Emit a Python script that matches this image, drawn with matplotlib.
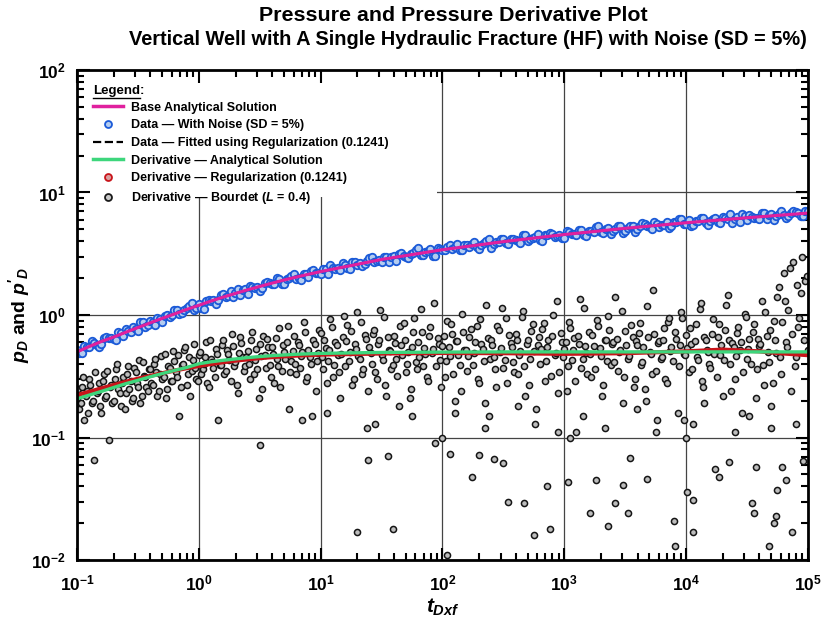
import numpy as np
import matplotlib
matplotlib.use('Agg')
import matplotlib.pyplot as plt
from matplotlib.lines import Line2D
from matplotlib.patches import Rectangle
from matplotlib.ticker import LogLocator, NullFormatter

plt.rcParams['font.family'] = ['Liberation Sans', 'DejaVu Sans']
plt.rcParams['mathtext.fontset'] = 'custom'
plt.rcParams['mathtext.rm'] = 'Liberation Sans:bold'
plt.rcParams['mathtext.it'] = 'Liberation Sans:bold:italic'
plt.rcParams['mathtext.bf'] = 'Liberation Sans:bold'

# ---------------- data (log10 of t_Dxf and values) ----------------
curve_logt = [-1.0, -0.9, -0.8, -0.7, -0.6, -0.5, -0.4, -0.3, -0.2, -0.1, 0.0,
              0.1, 0.2, 0.3, 0.4, 0.5, 0.6, 0.7, 0.8, 0.9, 1.0,
              1.5, 2.0, 2.5, 3.0, 3.5, 4.0, 4.5, 5.0]
base_pd = [0.50, 0.553, 0.608, 0.66, 0.723, 0.79, 0.862, 0.94, 1.02, 1.11, 1.20,
           1.30, 1.40, 1.50, 1.605, 1.71, 1.82, 1.93, 2.04, 2.15, 2.26,
           2.84, 3.41, 3.97, 4.535, 5.10, 5.66, 6.22, 6.785]
fitted_pd = [0.50, 0.553, 0.608, 0.66, 0.723, 0.79, 0.862, 0.94, 1.02, 1.11, 1.20,
             1.30, 1.40, 1.50, 1.605, 1.71, 1.82, 1.93, 2.04, 2.15, 2.26,
             2.84, 3.41, 3.97, 4.535, 5.10, 5.66, 6.22, 6.785]
deriv_analytical = [0.207, 0.222, 0.238, 0.256, 0.275, 0.293, 0.313, 0.333, 0.353, 0.373, 0.40,
                    0.415, 0.427, 0.438, 0.449, 0.458, 0.466, 0.472, 0.478, 0.482, 0.486,
                    0.495, 0.498, 0.50, 0.50, 0.50, 0.50, 0.50, 0.50]
reg_logt = [-1.0, -0.9, -0.8, -0.7, -0.6, -0.5, -0.4, -0.3, -0.2, -0.1, 0.0,
            0.1, 0.2, 0.3, 0.4, 0.5, 0.6, 0.7, 0.8, 0.9, 1.0,
            1.5, 2.0, 2.5, 3.0, 3.5, 4.0, 4.3, 4.6, 4.8, 5.0]
deriv_regularization = [0.222, 0.236, 0.252, 0.268, 0.285, 0.302, 0.318, 0.335, 0.352, 0.368, 0.384,
                        0.398, 0.412, 0.424, 0.435, 0.445, 0.453, 0.46, 0.466, 0.471, 0.475,
                        0.485, 0.49, 0.488, 0.482, 0.488, 0.505, 0.522, 0.505, 0.485, 0.47]

noise_logt = [-1.00, -0.98, -0.96, -0.94, -0.92, -0.90, -0.88, -0.86, -0.84, -0.82,
              -0.80, -0.78, -0.76, -0.74, -0.72, -0.70, -0.68, -0.66, -0.64, -0.62,
              -0.60, -0.58, -0.56, -0.54, -0.52, -0.50, -0.48, -0.46, -0.44, -0.42,
              -0.40, -0.38, -0.36, -0.34, -0.32, -0.30, -0.28, -0.26, -0.24, -0.22,
              -0.20, -0.18, -0.16, -0.14, -0.12, -0.10, -0.08, -0.06, -0.04, -0.02,
              0.00, 0.02, 0.04, 0.06, 0.08, 0.10, 0.12, 0.14, 0.16, 0.18,
              0.20, 0.22, 0.24, 0.26, 0.28, 0.30, 0.32, 0.34, 0.36, 0.38,
              0.40, 0.42, 0.44, 0.46, 0.48, 0.50, 0.52, 0.54, 0.56, 0.58,
              0.60, 0.62, 0.64, 0.66, 0.68, 0.70, 0.72, 0.74, 0.76, 0.78,
              0.80, 0.82, 0.84, 0.86, 0.88, 0.90, 0.92, 0.94, 0.96, 0.98,
              1.00, 1.02, 1.04, 1.06, 1.08, 1.10, 1.12, 1.14, 1.16, 1.18,
              1.20, 1.22, 1.24, 1.26, 1.28, 1.30, 1.32, 1.34, 1.36, 1.38,
              1.40, 1.42, 1.44, 1.46, 1.48, 1.50, 1.52, 1.54, 1.56, 1.58,
              1.60, 1.62, 1.64, 1.66, 1.68, 1.70, 1.72, 1.74, 1.76, 1.78,
              1.80, 1.82, 1.84, 1.86, 1.88, 1.90, 1.92, 1.94, 1.96, 1.98,
              2.00, 2.02, 2.04, 2.06, 2.08, 2.10, 2.12, 2.14, 2.16, 2.18,
              2.20, 2.22, 2.24, 2.26, 2.28, 2.30, 2.32, 2.34, 2.36, 2.38,
              2.40, 2.42, 2.44, 2.46, 2.48, 2.50, 2.52, 2.54, 2.56, 2.58,
              2.60, 2.62, 2.64, 2.66, 2.68, 2.70, 2.72, 2.74, 2.76, 2.78,
              2.80, 2.82, 2.84, 2.86, 2.88, 2.90, 2.92, 2.94, 2.96, 2.98,
              3.00, 3.02, 3.04, 3.06, 3.08, 3.10, 3.12, 3.14, 3.16, 3.18,
              3.20, 3.22, 3.24, 3.26, 3.28, 3.30, 3.32, 3.34, 3.36, 3.38,
              3.40, 3.42, 3.44, 3.46, 3.48, 3.50, 3.52, 3.54, 3.56, 3.58,
              3.60, 3.62, 3.64, 3.66, 3.68, 3.70, 3.72, 3.74, 3.76, 3.78,
              3.80, 3.82, 3.84, 3.86, 3.88, 3.90, 3.92, 3.94, 3.96, 3.98,
              4.00, 4.02, 4.04, 4.06, 4.08, 4.10, 4.12, 4.14, 4.16, 4.18,
              4.20, 4.22, 4.24, 4.26, 4.28, 4.30, 4.32, 4.34, 4.36, 4.38,
              4.40, 4.42, 4.44, 4.46, 4.48, 4.50, 4.52, 4.54, 4.56, 4.58,
              4.60, 4.62, 4.64, 4.66, 4.68, 4.70, 4.72, 4.74, 4.76, 4.78,
              4.80, 4.82, 4.84, 4.86, 4.88, 4.90, 4.92, 4.94, 4.96, 4.98, 5.00]
noise_pd = [0.515, 0.490, 0.490, 0.563, 0.547, 0.547, 0.609, 0.592, 0.574, 0.549,
            0.584, 0.649, 0.660, 0.653, 0.650, 0.641, 0.626, 0.733, 0.712, 0.675,
            0.766, 0.743, 0.728, 0.794, 0.769, 0.743, 0.876, 0.883, 0.791, 0.830,
            0.896, 0.877, 0.822, 0.953, 0.933, 0.874, 0.985, 1.001, 0.968, 0.994,
            1.091, 1.100, 1.014, 1.031, 1.092, 1.132, 1.184, 1.249, 1.094, 1.147,
            1.224, 1.147, 1.128, 1.310, 1.331, 1.313, 1.333, 1.233, 1.319, 1.449,
            1.484, 1.392, 1.426, 1.562, 1.406, 1.500, 1.643, 1.465, 1.594, 1.632,
            1.493, 1.724, 1.696, 1.651, 1.689, 1.556, 1.663, 1.824, 1.865, 1.834,
            1.784, 1.787, 1.994, 1.980, 1.794, 1.795, 1.972, 1.994, 2.076, 2.179,
            1.979, 2.021, 1.917, 2.169, 2.171, 2.043, 2.302, 2.326, 2.216, 2.216,
            2.147, 2.374, 2.375, 2.143, 2.564, 2.423, 2.374, 2.421, 2.346, 2.640,
            2.540, 2.412, 2.384, 2.687, 2.711, 2.553, 2.654, 2.492, 2.621, 2.778,
            2.938, 2.990, 2.683, 2.761, 2.812, 2.693, 2.972, 2.996, 2.701, 2.956,
            3.039, 2.765, 3.176, 3.200, 3.012, 2.973, 2.934, 3.173, 3.197, 3.410,
            3.498, 3.075, 3.097, 3.249, 3.305, 3.460, 3.053, 3.040, 3.532, 3.489,
            3.410, 3.363, 3.559, 3.720, 3.430, 3.557, 3.793, 3.389, 3.375, 3.756,
            3.708, 3.620, 3.827, 3.924, 3.613, 3.485, 3.732, 3.868, 4.044, 4.144,
            3.513, 3.766, 3.944, 3.927, 4.148, 4.171, 3.835, 3.776, 4.161, 4.184,
            4.085, 4.025, 3.882, 4.526, 4.509, 4.029, 4.136, 4.284, 4.350, 4.544,
            4.095, 3.985, 4.529, 4.465, 4.708, 4.599, 4.312, 4.422, 4.535, 4.286,
            4.218, 4.876, 4.717, 4.602, 4.625, 4.508, 4.950, 4.927, 4.526, 4.453,
            4.855, 4.878, 4.757, 5.213, 5.287, 4.775, 4.650, 5.065, 5.088, 4.615,
            4.885, 5.057, 5.282, 5.355, 4.669, 4.893, 5.171, 5.348, 5.372, 4.720,
            5.054, 5.337, 5.623, 5.541, 5.300, 5.269, 5.024, 5.743, 5.498, 5.250,
            5.381, 5.457, 5.754, 5.172, 5.304, 5.713, 5.737, 6.039, 6.064, 5.524,
            5.547, 5.909, 5.306, 5.441, 5.808, 5.830, 6.143, 6.166, 5.665, 5.393,
            5.885, 6.025, 6.167, 5.773, 5.676, 6.297, 6.140, 6.042, 6.611, 5.661,
            6.049, 6.316, 5.786, 6.733, 6.386, 5.973, 6.557, 6.330, 6.164, 6.186,
            6.082, 6.738, 6.827, 6.082, 6.489, 6.705, 5.952, 6.427, 6.710, 6.995,
            6.560, 6.187, 6.407, 6.760, 7.049, 6.872, 6.829, 6.448, 6.403, 7.100, 7.056]

bourdet_logt = [-1.00, -0.99, -0.98, -0.97, -0.96, -0.95, -0.94, -0.93, -0.92, -0.91,
                -0.90, -0.89, -0.88, -0.87, -0.86, -0.85, -0.84, -0.83, -0.82, -0.81,
                -0.80, -0.79, -0.78, -0.77, -0.76, -0.75, -0.74, -0.73, -0.72, -0.71,
                -0.70, -0.69, -0.68, -0.67, -0.66, -0.65, -0.64, -0.63, -0.62, -0.61,
                -0.60, -0.59, -0.58, -0.57, -0.56, -0.55, -0.54, -0.53, -0.52, -0.51,
                -0.50, -0.49, -0.48, -0.47, -0.46, -0.45, -0.44, -0.43, -0.42, -0.41,
                -0.40, -0.39, -0.38, -0.37, -0.36, -0.35, -0.34, -0.33, -0.32, -0.31,
                -0.30, -0.29, -0.28, -0.27, -0.26, -0.25, -0.24, -0.23, -0.22, -0.21,
                -0.20, -0.19, -0.18, -0.17, -0.16, -0.15, -0.14, -0.13, -0.12, -0.11,
                -0.10, -0.09, -0.08, -0.07, -0.06, -0.05, -0.04, -0.03, -0.02, -0.01,
                0.00, 0.01, 0.02, 0.03, 0.04, 0.05, 0.06, 0.07, 0.08, 0.09,
                0.10, 0.11, 0.12, 0.13, 0.14, 0.15, 0.16, 0.17, 0.18, 0.19,
                0.20, 0.21, 0.22, 0.23, 0.24, 0.25, 0.26, 0.27, 0.28, 0.29,
                0.30, 0.31, 0.32, 0.33, 0.34, 0.35, 0.36, 0.37, 0.38, 0.39,
                0.40, 0.41, 0.42, 0.43, 0.44, 0.45, 0.46, 0.47, 0.48, 0.49,
                0.50, 0.51, 0.52, 0.53, 0.54, 0.55, 0.56, 0.57, 0.58, 0.59,
                0.60, 0.61, 0.62, 0.63, 0.64, 0.65, 0.66, 0.67, 0.68, 0.69,
                0.70, 0.71, 0.72, 0.73, 0.74, 0.75, 0.76, 0.77, 0.78, 0.79,
                0.80, 0.81, 0.82, 0.83, 0.84, 0.85, 0.86, 0.87, 0.88, 0.89,
                0.90, 0.91, 0.92, 0.93, 0.94, 0.95, 0.96, 0.97, 0.98, 0.99,
                1.00, 1.01, 1.02, 1.03, 1.04, 1.05, 1.06, 1.07, 1.08, 1.09,
                1.10, 1.11, 1.12, 1.13, 1.14, 1.15, 1.16, 1.17, 1.18, 1.19,
                1.20, 1.21, 1.22, 1.23, 1.24, 1.25, 1.26, 1.27, 1.28, 1.29,
                1.30, 1.31, 1.32, 1.33, 1.34, 1.35, 1.36, 1.37, 1.38, 1.39,
                1.40, 1.41, 1.42, 1.43, 1.44, 1.45, 1.46, 1.47, 1.48, 1.49,
                1.50, 1.51, 1.52, 1.53, 1.54, 1.55, 1.56, 1.57, 1.58, 1.59,
                1.60, 1.61, 1.62, 1.63, 1.64, 1.65, 1.66, 1.67, 1.68, 1.69,
                1.70, 1.71, 1.72, 1.73, 1.74, 1.75, 1.76, 1.77, 1.78, 1.79,
                1.80, 1.81, 1.82, 1.83, 1.84, 1.85, 1.86, 1.87, 1.88, 1.89,
                1.90, 1.91, 1.92, 1.93, 1.94, 1.95, 1.96, 1.97, 1.98, 1.99,
                2.00, 2.01, 2.02, 2.03, 2.04, 2.05, 2.06, 2.07, 2.08, 2.09,
                2.10, 2.11, 2.12, 2.13, 2.14, 2.15, 2.16, 2.17, 2.18, 2.19,
                2.20, 2.21, 2.22, 2.23, 2.24, 2.25, 2.26, 2.27, 2.28, 2.29,
                2.30, 2.31, 2.32, 2.33, 2.34, 2.35, 2.36, 2.37, 2.38, 2.39,
                2.40, 2.41, 2.42, 2.43, 2.44, 2.45, 2.46, 2.47, 2.48, 2.49,
                2.50, 2.51, 2.52, 2.53, 2.54, 2.55, 2.56, 2.57, 2.58, 2.59,
                2.60, 2.61, 2.62, 2.63, 2.64, 2.65, 2.66, 2.67, 2.68, 2.69,
                2.70, 2.71, 2.72, 2.73, 2.74, 2.75, 2.76, 2.77, 2.78, 2.79,
                2.80, 2.81, 2.82, 2.83, 2.84, 2.85, 2.86, 2.87, 2.88, 2.89,
                2.90, 2.91, 2.92, 2.93, 2.94, 2.95, 2.96, 2.97, 2.98, 2.99,
                3.00, 3.01, 3.02, 3.03, 3.04, 3.05, 3.06, 3.07, 3.08, 3.09,
                3.10, 3.11, 3.12, 3.13, 3.14, 3.15, 3.16, 3.17, 3.18, 3.19,
                3.20, 3.21, 3.22, 3.23, 3.24, 3.25, 3.26, 3.27, 3.28, 3.29,
                3.30, 3.31, 3.32, 3.33, 3.34, 3.35, 3.36, 3.37, 3.38, 3.39,
                3.40, 3.41, 3.42, 3.43, 3.44, 3.45, 3.46, 3.47, 3.48, 3.49,
                3.50, 3.51, 3.52, 3.53, 3.54, 3.55, 3.56, 3.57, 3.58, 3.59,
                3.60, 3.61, 3.62, 3.63, 3.64, 3.65, 3.66, 3.67, 3.68, 3.69,
                3.70, 3.71, 3.72, 3.73, 3.74, 3.75, 3.76, 3.77, 3.78, 3.79,
                3.80, 3.81, 3.82, 3.83, 3.84, 3.85, 3.86, 3.87, 3.88, 3.89,
                3.90, 3.91, 3.92, 3.93, 3.94, 3.95, 3.96, 3.97, 3.98, 3.99,
                4.00, 4.01, 4.02, 4.03, 4.04, 4.05, 4.06, 4.07, 4.08, 4.09,
                4.10, 4.11, 4.12, 4.13, 4.14, 4.15, 4.16, 4.17, 4.18, 4.19,
                4.20, 4.21, 4.22, 4.23, 4.24, 4.25, 4.26, 4.27, 4.28, 4.29,
                4.30, 4.31, 4.32, 4.33, 4.34, 4.35, 4.36, 4.37, 4.38, 4.39,
                4.40, 4.41, 4.42, 4.43, 4.44, 4.45, 4.46, 4.47, 4.48, 4.49,
                4.50, 4.51, 4.52, 4.53, 4.54, 4.55, 4.56, 4.57, 4.58, 4.59,
                4.60, 4.61, 4.62, 4.63, 4.64, 4.65, 4.66, 4.67, 4.68, 4.69,
                4.70, 4.71, 4.72, 4.73, 4.74, 4.75, 4.76, 4.77, 4.78, 4.79,
                4.80, 4.81, 4.82, 4.83, 4.84, 4.85, 4.86, 4.87, 4.88, 4.89,
                4.90, 4.91, 4.92, 4.93, 4.94, 4.95, 4.96, 4.97, 4.98, 4.99, 5.00,
                1.30, 1.59, 1.39, 1.55, 2.67, 2.75, 2.86, 3.03, 3.21, 3.36,
                3.42, 3.52, 3.48, 3.68, 3.91, 4.01, 4.06, 4.06, 4.27, 4.35,
                4.56, 4.68, 4.72, 4.74, 4.79, 4.82, 4.87, 4.75, 4.57, 2.06,
                2.30, 2.42, 2.50, 0.50, 2.04, 2.10, 2.35, 2.62, 2.95, 3.15,
                3.33, 3.60, 3.75, 3.98, 4.15, 4.40, 4.52, 4.70, 4.90, 1.75,
                1.45, 1.05, 0.85, 2.00, 3.05, 4.00]
bourdet_pd = [0.21, 0.25, 0.17, 0.19, 0.26, 0.31, 0.14, 0.22, 0.24, 0.16,
              0.30, 0.27, 0.19, 0.20, 0.065, 0.34, 0.23, 0.24, 0.28, 0.18,
              0.16, 0.29, 0.33, 0.21, 0.22, 0.35, 0.095, 0.26, 0.27, 0.19,
              0.20, 0.30, 0.36, 0.40, 0.25, 0.23, 0.18, 0.28, 0.31, 0.17,
              0.23, 0.33, 0.38, 0.25, 0.29, 0.20, 0.21, 0.37, 0.34, 0.28,
              0.26, 0.43, 0.19, 0.22, 0.41, 0.32, 0.31, 0.26, 0.24, 0.36,
              0.36, 0.28, 0.27, 0.40, 0.44, 0.34, 0.22, 0.24, 0.33, 0.46,
              0.30, 0.31, 0.48, 0.21, 0.25, 0.38, 0.37, 0.29, 0.29, 0.51,
              0.42, 0.34, 0.31, 0.47, 0.15, 0.26, 0.39, 0.40, 0.52, 0.55,
              0.27, 0.33, 0.45, 0.22, 0.35, 0.43, 0.58, 0.37, 0.30, 0.29,
              0.47, 0.50, 0.33, 0.36, 0.40, 0.45, 0.60, 0.28, 0.26, 0.63,
              0.44, 0.41, 0.37, 0.31, 0.53, 0.48, 0.14, 0.39, 0.39, 0.57,
              0.62, 0.33, 0.35, 0.52, 0.48, 0.43, 0.29, 0.70, 0.56, 0.38,
              0.41, 0.27, 0.23, 0.49, 0.66, 0.59, 0.45, 0.35, 0.38, 0.45,
              0.51, 0.40, 0.30, 0.62, 0.72, 0.33, 0.43, 0.53, 0.36, 0.21,
              0.58, 0.46, 0.25, 0.68, 0.47, 0.37, 0.64, 0.55, 0.39, 0.31,
              0.55, 0.48, 0.28, 0.65, 0.44, 0.38, 0.78, 0.26, 0.35, 0.57,
              0.50, 0.44, 0.60, 0.82, 0.17, 0.34, 0.42, 0.51, 0.68, 0.40,
              0.33, 0.60, 0.57, 0.37, 0.46, 0.50, 0.88, 0.72, 0.29, 0.31,
              0.52, 0.45, 0.40, 0.15, 0.63, 0.58, 0.24, 0.42, 0.49, 0.76,
              0.71, 0.45, 0.36, 0.63, 0.54, 0.28, 0.42, 0.52, 0.92, 0.80,
              0.31, 0.39, 0.60, 0.57, 0.47, 0.34, 0.21, 0.48, 0.66, 0.98,
              0.38, 0.61, 0.83, 0.42, 0.50, 0.74, 0.27, 0.30, 0.58, 0.53,
              1.05, 0.46, 0.44, 0.88, 0.33, 0.36, 0.69, 0.64, 0.12, 0.24,
              0.55, 0.49, 0.40, 0.70, 0.75, 0.34, 0.30, 0.58, 0.62, 1.10,
              0.47, 0.43, 0.96, 0.27, 0.22, 0.66, 0.52, 0.51, 0.36, 0.39,
              0.68, 0.59, 0.44, 0.32, 0.18, 0.81, 0.57, 0.47, 0.86, 0.63,
              0.34, 0.40, 0.50, 0.21, 0.25, 0.55, 0.73, 0.95, 0.41, 0.36,
              0.60, 0.45, 1.12, 0.72, 0.38, 0.54, 0.48, 0.31, 0.29, 0.67,
              0.80, 0.49, 0.53, 1.25, 0.09, 0.38, 0.65, 0.58, 0.43, 0.26,
              0.56, 0.68, 0.31, 0.42, 0.90, 0.55, 0.46, 0.84, 0.70, 0.33,
              0.20, 0.61, 0.61, 0.47, 0.39, 0.24, 1.02, 0.73, 0.52, 0.52,
              0.35, 0.46, 0.66, 0.77, 0.048, 0.39, 0.49, 0.60, 0.82, 0.30,
              0.28, 0.92, 0.58, 0.53, 0.42, 0.19, 1.20, 0.65, 0.15, 0.44,
              0.63, 0.57, 0.45, 0.36, 0.26, 0.81, 0.75, 0.50, 0.54, 1.15,
              0.37, 0.43, 0.94, 0.28, 0.030, 0.69, 0.59, 0.55, 0.41, 0.34,
              0.70, 0.62, 0.33, 0.47, 0.51, 0.96, 1.08, 0.38, 0.22, 0.58,
              0.62, 0.27, 0.44, 0.74, 0.85, 0.51, 0.13, 0.17, 0.57, 0.66,
              0.40, 0.53, 0.77, 0.86, 0.29, 0.42, 0.55, 0.63, 0.018, 0.32,
              0.67, 1.00, 0.47, 0.49, 1.30, 0.23, 0.34, 0.71, 0.60, 0.45,
              0.53, 0.60, 0.24, 0.38, 0.88, 0.79, 0.43, 0.52, 0.65, 0.29,
              0.11, 0.67, 0.58, 1.35, 0.37, 0.44, 1.15, 0.56, 0.49, 0.33,
              0.72, 0.48, 0.31, 0.69, 0.56, 0.36, 0.045, 0.91, 0.82, 0.54,
              0.46, 0.22, 0.27, 0.63, 0.63, 0.42, 0.99, 0.76, 0.39, 0.58,
              0.60, 0.41, 1.40, 0.64, 0.35, 0.50, 0.52, 1.08, 0.19, 0.31,
              0.74, 0.57, 0.44, 0.46, 0.068, 0.83, 0.66, 0.26, 0.30, 0.61,
              0.57, 0.71, 0.86, 0.39, 0.41, 0.55, 0.25, 0.20, 1.18, 0.66,
              0.50, 0.48, 0.33, 1.60, 0.70, 0.35, 0.14, 0.59, 0.61, 0.44,
              0.45, 0.62, 0.78, 0.30, 0.28, 0.88, 0.95, 0.51, 0.55, 0.42,
              0.021, 0.73, 0.64, 0.16, 0.38, 0.57, 1.06, 0.94, 0.48, 0.47,
              0.69, 0.54, 0.34, 0.78, 0.58, 0.36, 0.13, 0.61, 0.84, 0.45,
              0.43, 1.12, 1.25, 0.29, 0.26, 0.66, 0.62, 0.52, 0.50, 0.40,
              0.37, 0.70, 0.92, 0.48, 0.055, 0.31, 0.66, 0.85, 0.47, 0.57,
              0.22, 0.43, 0.76, 1.20, 1.45, 0.63, 0.40, 0.24, 0.59, 0.55,
              0.30, 0.46, 0.71, 0.80, 0.52, 0.60, 0.16, 0.34, 1.02, 0.97,
              0.44, 0.53, 0.64, 0.40, 0.029, 0.72, 0.85, 0.21, 0.36, 0.64,
              0.56, 0.58, 1.30, 0.39, 0.27, 1.05, 0.68, 0.50, 0.41, 0.76,
              0.12, 0.28, 0.90, 0.62, 0.49, 1.40, 1.70, 0.45, 0.33, 0.88,
              2.20, 1.30, 0.60, 0.55, 1.10, 2.40, 0.24, 0.70, 2.70, 0.38,
              0.45, 1.75, 0.80, 0.95, 1.50, 3.00, 0.064, 0.62, 1.90, 2.10, 0.52,
              0.017, 0.018, 0.066, 0.071, 0.029, 0.016, 0.040, 0.043, 0.024, 0.019,
              0.029, 0.024, 0.041, 0.046, 0.013, 0.036, 0.031, 0.017, 0.048, 0.063,
              0.024, 0.013, 0.020, 0.023, 0.057, 0.045, 0.017, 0.037, 0.057, 0.073,
              0.072, 0.067, 0.062, 0.087, 0.011, 0.16, 0.12, 0.18, 0.11, 0.15,
              0.12, 0.17, 0.11, 0.14, 0.19, 0.11, 0.15, 0.18, 0.13, 0.15,
              0.13, 0.16, 0.14, 0.10, 0.10, 0.10]

x_ticks = [1e-1, 1e0, 1e1, 1e2, 1e3, 1e4, 1e5]
y_ticks = [1e-2, 1e-1, 1e0, 1e1, 1e2]

# ---------------- figure ----------------
fig = plt.figure(figsize=(8.24, 6.3), dpi=100)
ax = fig.add_axes([0.0935, 0.111, 0.887, 0.778])

t_curve = 10 ** np.array(curve_logt)
t_reg = 10 ** np.array(reg_logt)
t_noise = 10 ** np.array(noise_logt)
t_bourdet = 10 ** np.array(bourdet_logt)

# major grid lines, drawn below the legend's white panel
for xv in x_ticks:
    ax.axvline(xv, color='#444444', lw=0.9, zorder=1)
for yv in y_ticks:
    ax.axhline(yv, color='#444444', lw=0.9, zorder=1)
ax.add_patch(Rectangle((0.0, 0.741), 0.4925, 0.259, transform=ax.transAxes,
                       facecolor='white', edgecolor='none', zorder=1.5))

ax.plot(t_bourdet, bourdet_pd, ls='none', marker='o', ms=4.4, mfc='#bdbdbd',
        mec='#151515', mew=1.1, zorder=3)
ax.plot(t_noise, noise_pd, ls='none', marker='o', ms=5.4, mfc='#b3ccf0',
        mec='#1b5ad8', mew=1.3, zorder=4)
ax.plot(t_curve, fitted_pd, color='black', ls='--', lw=1.5, zorder=5)
ax.plot(t_curve, base_pd, color='#e0209e', lw=2.2, zorder=6)
ax.plot(t_reg, deriv_regularization, color='#c8141a', lw=3.0, zorder=6)
ax.plot(t_curve, deriv_analytical, color='#3dd67c', lw=2.4, zorder=7)

ax.set_xscale('log')
ax.set_yscale('log')
ax.set_xlim(1e-1, 1e5)
ax.set_ylim(1e-2, 1e2)
ax.set_xticks(x_ticks)
ax.set_yticks(y_ticks)
ax.xaxis.set_minor_locator(LogLocator(base=10, subs=np.arange(2, 10)))
ax.yaxis.set_minor_locator(LogLocator(base=10, subs=np.arange(2, 10)))
ax.xaxis.set_minor_formatter(NullFormatter())
ax.yaxis.set_minor_formatter(NullFormatter())
ax.grid(False)
ax.set_axisbelow(False)

ax.tick_params(which='both', direction='in', top=True, right=True, width=1.5,
               labelsize=12.5)
ax.tick_params(which='major', length=9)
ax.tick_params(which='minor', length=5)
ax.tick_params(axis='x', pad=10)
ax.tick_params(axis='y', pad=8)
for lab in ax.get_xticklabels() + ax.get_yticklabels():
    lab.set_fontweight('bold')
for sp in ax.spines.values():
    sp.set_linewidth(2.0)
    sp.set_zorder(12)

ax.set_xlabel(r'$t_{Dxf}$', fontsize=15, labelpad=2)
ax.set_ylabel(r"$p_D$ and $p'_D$", fontsize=14, fontweight='bold')
ax.yaxis.set_label_coords(-0.062, 0.5)

fig.text(0.55, 0.976, 'Pressure and Pressure Derivative Plot', ha='center',
         va='center', fontsize=15.4, fontweight='bold')
fig.text(0.568, 0.937,
         'Vertical Well with A Single Hydraulic Fracture (HF) with Noise (SD = 5%)',
         ha='center', va='center', fontsize=14.4, fontweight='bold')

# legend
handles = [
    Line2D([], [], color='#e0209e', lw=2.5),
    Line2D([], [], ls='none', marker='o', ms=5, mfc='#b3ccf0', mec='#1b5ad8', mew=1.3),
    Line2D([], [], color='black', ls='--', lw=1.6),
    Line2D([], [], color='#3dd67c', lw=2.5),
    Line2D([], [], ls='none', marker='o', ms=5, mfc='#d9a0a0', mec='#c8141a', mew=1.3),
    Line2D([], [], ls='none', marker='o', ms=5, mfc='#c9c9c9', mec='#1a1a1a', mew=1.3),
]
labels = ['Base Analytical Solution',
          'Data \u2014 With Noise (SD = 5%)',
          'Data \u2014 Fitted using Regularization (0.1241)',
          'Derivative \u2014 Analytical Solution',
          'Derivative \u2014 Regularization (0.1241)',
          'Derivative \u2014 Bourdet ($L$ = 0.4)']
leg = ax.legend(handles, labels, loc='upper left', bbox_to_anchor=(0.022, 0.935),
                frameon=False, borderpad=0, borderaxespad=0, handlelength=2.4,
                handletextpad=0.6, labelspacing=0.45,
                prop={'weight': 'bold', 'size': 9})
leg.set_zorder(10)

tl = ax.text(0.022, 0.957, 'Legend', transform=ax.transAxes, ha='left', va='center',
             fontsize=9.5, fontweight='bold', zorder=10)
fig.canvas.draw()
bb = tl.get_window_extent()
inv = fig.transFigure.inverted()
(x0, y0), (x1, _) = inv.transform([(bb.x0, bb.y0), (bb.x1, bb.y0)])
fig.add_artist(Line2D([x0, x1], [y0 - 0.002, y0 - 0.002], color='black', lw=1.0,
                      transform=fig.transFigure))
yc = inv.transform(ax.transAxes.transform((0, 0.957)))[1]
fig.text(x1, yc, ':', ha='left', va='center', fontsize=9.5, fontweight='bold')

fig.savefig('out.png', dpi=100)
